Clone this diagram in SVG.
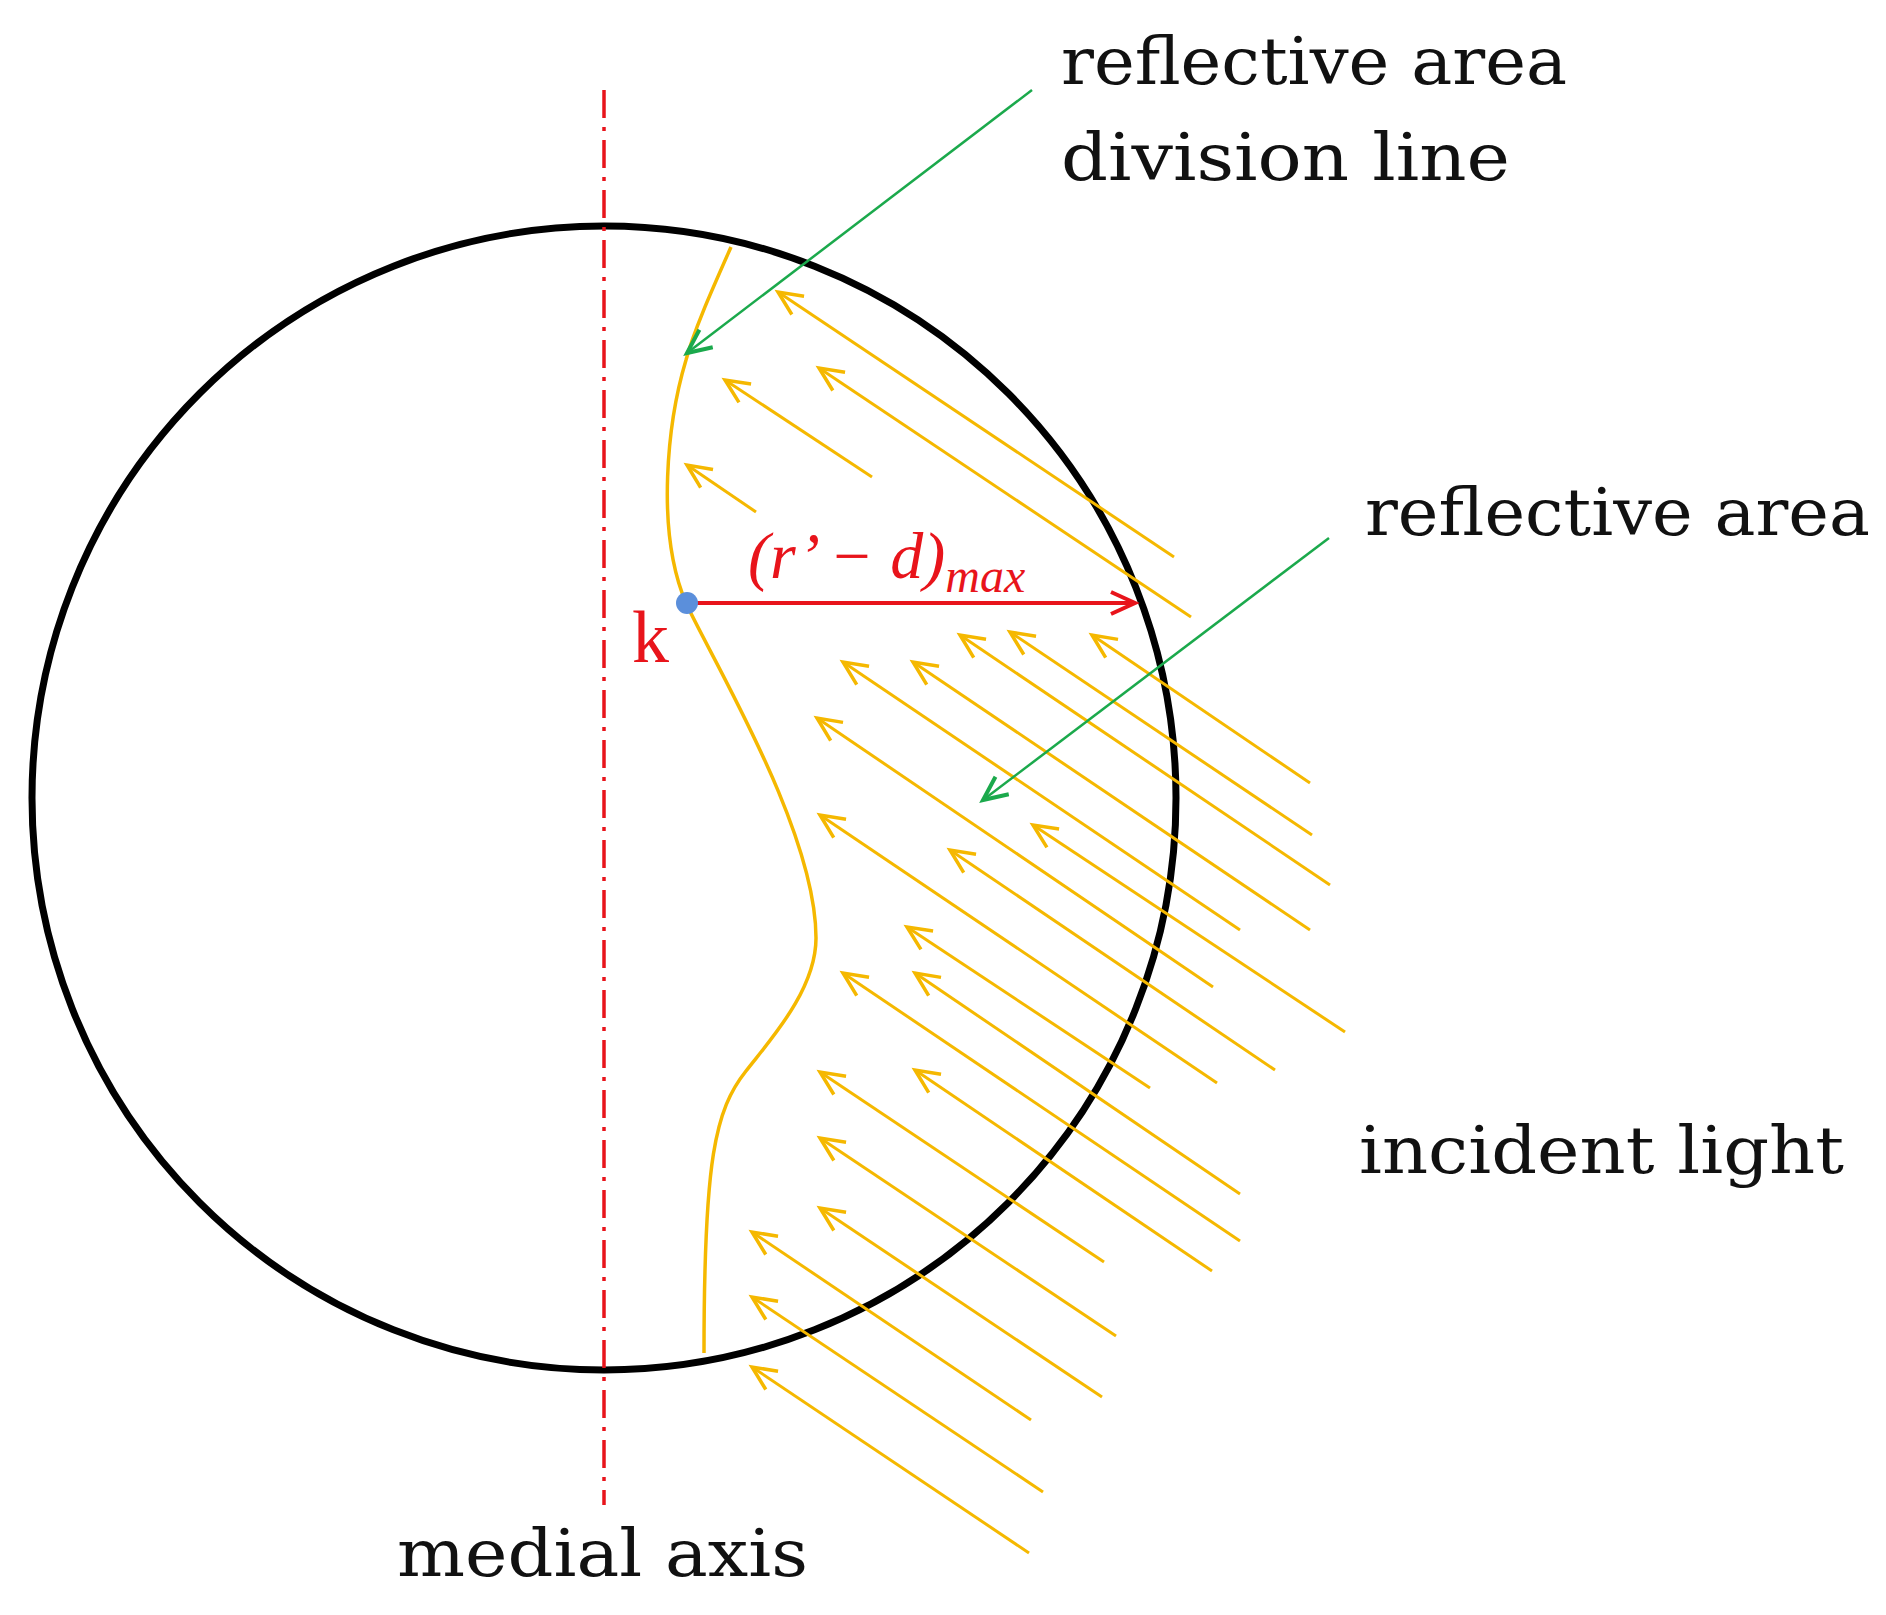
<svg xmlns="http://www.w3.org/2000/svg" width="1886" height="1615" viewBox="0 0 1886 1615">
<defs>
<marker id="ya" markerUnits="userSpaceOnUse" markerWidth="40" markerHeight="40" refX="26" refY="13" orient="auto"><path d="M2,2 L26,13 L2,24" fill="none" stroke="#F5B800" stroke-width="3.5"/></marker>
<marker id="ga" markerUnits="userSpaceOnUse" markerWidth="40" markerHeight="40" refX="26" refY="13" orient="auto"><path d="M2,2 L26,13 L2,24" fill="none" stroke="#1BA94C" stroke-width="4"/></marker>
<marker id="ra" markerUnits="userSpaceOnUse" markerWidth="40" markerHeight="40" refX="26" refY="13" orient="auto"><path d="M2,2 L26,13 L2,24" fill="none" stroke="#E8141B" stroke-width="4"/></marker>
</defs>
<style>
.lbl{font-family:"DejaVu Serif","Liberation Serif",serif;fill:#111;font-size:66px}
.y{stroke:#F5B800;stroke-width:3;fill:none;marker-end:url(#ya)}
.red{fill:#E8141B;font-family:"Liberation Serif","DejaVu Serif",serif}
</style>
<rect width="1886" height="1615" fill="#fff"/>
<g id="circle"><circle cx="604" cy="798" r="572" fill="none" stroke="#000" stroke-width="7"/></g>
<g id="axis"><line x1="604" y1="90" x2="604" y2="1505" stroke="#E8141B" stroke-width="3.5" stroke-dasharray="28,9,4,9"/></g>
<g id="division-line"><path d="M731,247 C712,290 694,330 686,360 C668,420 655,530 686,603 C712,660 816,830 816,938 C816,990 770,1040 746,1071 C715,1110 704,1160 704,1353" fill="none" stroke="#F5B800" stroke-width="3.5"/></g>
<g id="connectors">
<line class="y" x1="1174" y1="557" x2="778" y2="292"/>
<line class="y" x1="1191" y1="617" x2="819" y2="368"/>
<line class="y" x1="872" y1="477" x2="725" y2="380"/>
<line class="y" x1="756" y1="512" x2="687" y2="465"/>
<line class="y" x1="1310" y1="783" x2="1092" y2="635"/>
<line class="y" x1="1312" y1="835" x2="1010" y2="632"/>
<line class="y" x1="1330" y1="885" x2="960" y2="635"/>
<line class="y" x1="1310" y1="930" x2="913" y2="662"/>
<line class="y" x1="1240" y1="930" x2="843" y2="662"/>
<line class="y" x1="1213" y1="987" x2="817" y2="718"/>
<line class="y" x1="1345" y1="1032" x2="1033" y2="825"/>
<line class="y" x1="1275" y1="1070" x2="950" y2="850"/>
<line class="y" x1="1217" y1="1083" x2="820" y2="815"/>
<line class="y" x1="1150" y1="1088" x2="907" y2="927"/>
<line class="y" x1="1240" y1="1241" x2="843" y2="973"/>
<line class="y" x1="1240" y1="1194" x2="915" y2="973"/>
<line class="y" x1="1212" y1="1271" x2="915" y2="1070"/>
<line class="y" x1="1104" y1="1262" x2="820" y2="1072"/>
<line class="y" x1="1116" y1="1336" x2="820" y2="1138"/>
<line class="y" x1="1102" y1="1397" x2="820" y2="1208"/>
<line class="y" x1="1031" y1="1420" x2="752" y2="1232"/>
<line class="y" x1="1043" y1="1492" x2="752" y2="1297"/>
<line class="y" x1="1029" y1="1553" x2="752" y2="1367"/>
<line x1="1032" y1="90" x2="687" y2="353" stroke="#1BA94C" stroke-width="2.5" marker-end="url(#ga)"/>
<line x1="1329" y1="538" x2="983" y2="800" stroke="#1BA94C" stroke-width="2.5" marker-end="url(#ga)"/>
<line x1="690" y1="603" x2="1135" y2="603" stroke="#E8141B" stroke-width="4" marker-end="url(#ra)"/>
</g>
<g id="point-k">
<circle cx="687" cy="603" r="11" fill="#5B8FDB"/>
<text class="red" x="632" y="662" font-size="74">k</text>
</g>
<g id="dim-label"><text class="red" x="748" y="578" font-size="66" font-style="italic">(r’ − d)<tspan font-size="48" dy="14">max</tspan></text></g>
<g id="labels">
<text class="lbl" x="1061" y="84" textLength="506" lengthAdjust="spacingAndGlyphs">reflective area</text>
<text class="lbl" x="1061" y="180" textLength="449" lengthAdjust="spacingAndGlyphs">division line</text>
<text class="lbl" x="1365" y="535" textLength="505" lengthAdjust="spacingAndGlyphs">reflective area</text>
<text class="lbl" x="1359" y="1173" textLength="485" lengthAdjust="spacingAndGlyphs">incident light</text>
<text class="lbl" x="397" y="1576" textLength="411" lengthAdjust="spacingAndGlyphs">medial axis</text>
</g>
</svg>
